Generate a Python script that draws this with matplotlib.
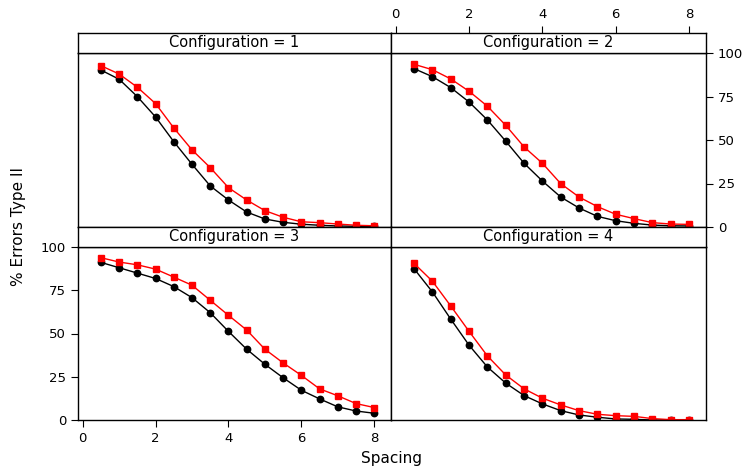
import numpy as np
from matplotlib import pyplot as plt

spacing = np.arange(0.5, 8.01, 0.5)

# red squares / black circles per configuration
red_1 = [92.7, 87.9, 80.3, 70.9, 56.9, 44.3, 34.1, 22.6, 15.5, 9.4, 5.6, 3.0, 2.5, 1.7, 1.0, 0.7]
black_1 = [90.2, 84.9, 74.9, 63.2, 49.0, 36.0, 23.6, 15.5, 8.6, 4.6, 2.7, 1.6, 1.0, 0.6, 0.4, 0.3]
red_2 = [93.5, 90.4, 85.1, 78.0, 69.4, 58.4, 46.0, 36.6, 24.9, 17.2, 11.7, 7.3, 4.8, 2.5, 1.7, 1.5]
black_2 = [91.0, 86.4, 80.1, 71.8, 61.5, 49.3, 36.6, 26.4, 17.2, 10.9, 6.1, 3.6, 2.1, 1.1, 0.7, 0.6]
red_3 = [93.8, 91.3, 89.7, 87.2, 82.6, 77.9, 69.2, 60.5, 52.0, 40.9, 33.0, 25.8, 18.0, 14.0, 9.5, 7.2]
black_3 = [91.1, 88.0, 84.9, 81.8, 77.1, 70.7, 62.0, 51.2, 40.9, 32.2, 24.4, 17.2, 12.2, 7.6, 5.2, 3.9]
red_4 = [90.5, 80.2, 65.9, 51.2, 37.0, 26.0, 18.0, 12.6, 8.7, 5.4, 3.3, 2.5, 2.1, 0.8, 0.2, 0.2]
black_4 = [87.4, 74.0, 58.3, 43.2, 30.6, 21.3, 14.1, 9.3, 5.4, 2.9, 1.6, 0.6, 0.4, 0.0, 0.0, 0.0]

configs = [1, 2, 3, 4]
reds = [red_1, red_2, red_3, red_4]
blacks = [black_1, black_2, black_3, black_4]

W, H = 749, 468
fig = plt.figure(figsize=(W / 100, H / 100), dpi=100)

x_edges = [78, 391, 706]
# (strip top, data top, data bottom) in pixels from the top
rows = [(33, 53, 227), (227, 247, 420)]

def px_axes(x0, x1, ytop, ybot):
    return fig.add_axes([x0 / W, 1 - ybot / H, (x1 - x0) / W, (ybot - ytop) / H])

for k, conf in enumerate(configs):
    r, c = divmod(k, 2)
    x0, x1 = x_edges[c], x_edges[c + 1]
    s_top, d_top, d_bot = rows[r]

    ax = px_axes(x0, x1, d_top, d_bot)
    ax.plot(spacing, blacks[k], color="black", marker="o", markersize=4.6, lw=1.0)
    ax.plot(spacing, reds[k], color="red", marker="s", markersize=5.0, lw=1.0)
    ax.set_xlim(-0.13, 8.46)
    ax.set_ylim(0, 100)
    ax.set_xticks([0, 2, 4, 6, 8])
    ax.set_yticks([0, 25, 50, 75, 100])
    ax.tick_params(direction="out", length=5, labelsize=9.5,
                   bottom=(r == 1 and c == 0), labelbottom=(r == 1 and c == 0),
                   top=False, labeltop=False,
                   left=(r == 1 and c == 0), labelleft=(r == 1 and c == 0),
                   right=(r == 0 and c == 1), labelright=(r == 0 and c == 1))
    for sp in ax.spines.values():
        sp.set_linewidth(1.0)

    st = px_axes(x0, x1, s_top, d_top)
    st.set_xticks([])
    st.set_yticks([])
    st.text(0.5, 0.5, "Configuration = %d" % conf, ha="center", va="center",
            fontsize=10.5, transform=st.transAxes)
    for sp in st.spines.values():
        sp.set_linewidth(1.0)
    # top-right strip carries the top axis ticks on its upper edge
    if r == 0 and c == 1:
        st.set_xlim(-0.13, 8.46)
        st.set_xticks([0, 2, 4, 6, 8])
        st.tick_params(direction="out", length=5, labelsize=9.5,
                       bottom=False, labelbottom=False, top=True, labeltop=True)

fig.text(391 / W, 1 - 459 / H, "Spacing", ha="center", va="center", fontsize=11)
fig.text(19 / W, 1 - 226 / H, "% Errors Type II", ha="center", va="center",
         rotation=90, fontsize=11)

fig.savefig("out.png", dpi=100)
